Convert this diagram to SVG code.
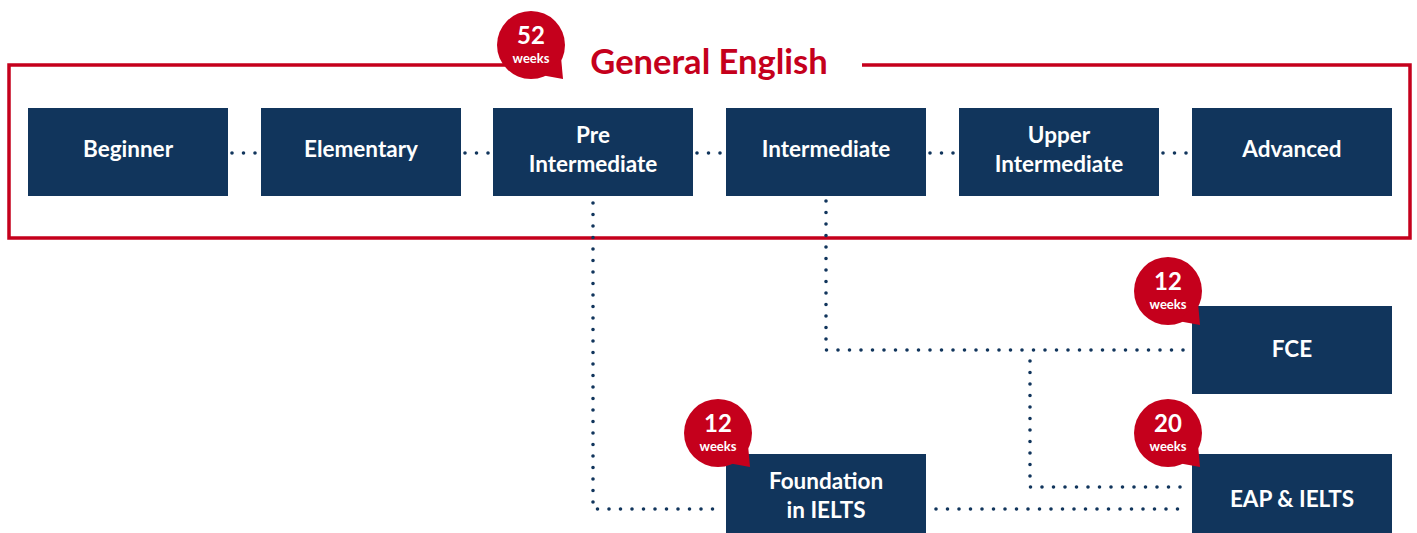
<svg xmlns="http://www.w3.org/2000/svg" width="1417" height="533" viewBox="0 0 1417 533">
<style>
.box{fill:#11355c}
.lbl{fill:#ffffff;font-family:Lato,"Liberation Sans",sans-serif;font-size:22.5px;font-weight:bold;text-anchor:middle}
.dot{fill:none;stroke:#11355c;stroke-width:3.6;stroke-linecap:round;stroke-dasharray:0 11.5}
.frame{fill:none;stroke:#c5001c;stroke-width:3.5}
.bubble{fill:#c5001c}
.num{fill:#ffffff;font-family:Lato,"Liberation Sans",sans-serif;font-size:24px;font-weight:bold;text-anchor:middle}
.wk{fill:#ffffff;font-family:Lato,"Liberation Sans",sans-serif;font-size:13px;font-weight:bold;text-anchor:middle}
.title{fill:#c5001c;font-family:Lato,"Liberation Sans",sans-serif;font-size:34.5px;font-weight:bold;text-anchor:middle}
</style>
<defs>
<g id="bub">
<circle cx="0" cy="0" r="34"/>
<polygon points="10,30 32,34 30,12"/>
</g>
</defs>

<g id="frame">
<path class="frame" d="M505,65 H9 V238 H1410 V65 H862"/>
<text class="title" x="709" y="74">General English</text>
</g>

<g id="connectors">
<line class="dot" x1="232" y1="153" x2="256" y2="153"/>
<line class="dot" x1="465" y1="153" x2="489" y2="153"/>
<line class="dot" x1="697" y1="153" x2="721" y2="153"/>
<line class="dot" x1="930" y1="153" x2="954" y2="153"/>
<line class="dot" x1="1163" y1="153" x2="1187" y2="153"/>
<polyline class="dot" points="593,203 593,509 721,509"/>
<polyline class="dot" points="826,201 826,350 1186,350"/>
<polyline class="dot" points="1030,361 1030,487 1186,487"/>
<line class="dot" x1="936" y1="509" x2="1188" y2="509"/>
</g>

<g id="n-beginner"><rect class="box" x="28" y="108" width="200" height="88"/><text class="lbl" x="128" y="157">Beginner</text></g>
<g id="n-elementary"><rect class="box" x="261" y="108" width="200" height="88"/><text class="lbl" x="361" y="157">Elementary</text></g>
<g id="n-preint"><rect class="box" x="493" y="108" width="200" height="88"/><text class="lbl" x="593" y="143">Pre</text><text class="lbl" x="593" y="172">Intermediate</text></g>
<g id="n-intermediate"><rect class="box" x="726" y="108" width="200" height="88"/><text class="lbl" x="826" y="157">Intermediate</text></g>
<g id="n-upperint"><rect class="box" x="959" y="108" width="200" height="88"/><text class="lbl" x="1059" y="143">Upper</text><text class="lbl" x="1059" y="172">Intermediate</text></g>
<g id="n-advanced"><rect class="box" x="1192" y="108" width="200" height="88"/><text class="lbl" x="1292" y="157">Advanced</text></g>
<g id="n-fce"><rect class="box" x="1192" y="306" width="200" height="88"/><text class="lbl" x="1292" y="357">FCE</text></g>
<g id="n-eap"><rect class="box" x="1192" y="454" width="200" height="79"/><text class="lbl" x="1292" y="507">EAP &amp; IELTS</text></g>
<g id="n-foundation"><rect class="box" x="726" y="454" width="200" height="79"/><text class="lbl" x="826" y="489">Foundation</text><text class="lbl" x="826" y="518">in IELTS</text></g>

<g id="badge-52"><use href="#bub" class="bubble" x="531" y="45"/><text class="num" x="531" y="44">52</text><text class="wk" x="531" y="63">weeks</text></g>
<g id="badge-fce"><use href="#bub" class="bubble" x="1168" y="291"/><text class="num" x="1168" y="290">12</text><text class="wk" x="1168" y="309">weeks</text></g>
<g id="badge-eap"><use href="#bub" class="bubble" x="1168" y="433"/><text class="num" x="1168" y="432">20</text><text class="wk" x="1168" y="451">weeks</text></g>
<g id="badge-foundation"><use href="#bub" class="bubble" x="718" y="433"/><text class="num" x="718" y="432">12</text><text class="wk" x="718" y="451">weeks</text></g>
</svg>
